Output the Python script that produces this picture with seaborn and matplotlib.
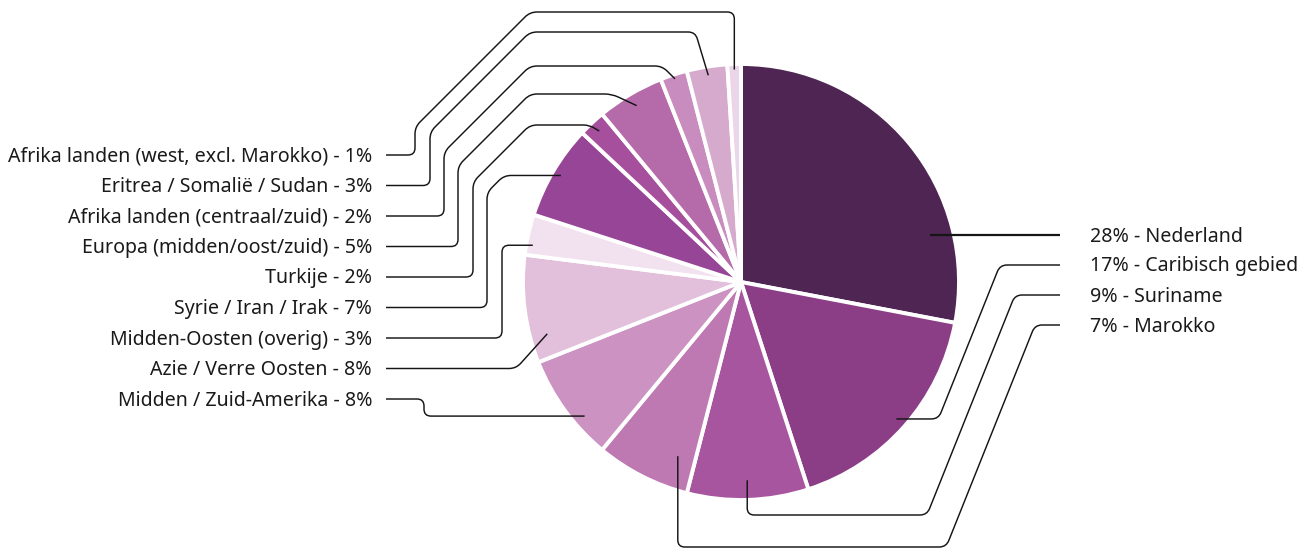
import numpy as np
import matplotlib
matplotlib.use("Agg")
import matplotlib.pyplot as plt
from matplotlib.path import Path
from matplotlib.patches import PathPatch
import seaborn as sns

# slices in clockwise order, starting at 12 o'clock
regions = ["Nederland", "Caribisch gebied", "Suriname", "Marokko",
           "Midden / Zuid-Amerika", "Azie / Verre Oosten", "Midden-Oosten (overig)",
           "Syrie / Iran / Irak", "Turkije", "Europa (midden/oost/zuid)",
           "Afrika landen (centraal/zuid)", "Eritrea / Somalië / Sudan",
           "Afrika landen (west, excl. Marokko)"]
shares = [28, 17, 9, 7, 8, 8, 3, 7, 2, 5, 2, 3, 1]
colors = ["#4f2553", "#8b3d86", "#a855a0", "#be78b2", "#cc92c2", "#e2bfdb", "#f2e1ee",
          "#974596", "#a54f9d", "#b56baa", "#c98cbe", "#d6aacd", "#ecd5e8"]

sns.set_theme(style="white")
plt.rcParams["font.family"] = ["Noto Sans", "DejaVu Sans"]

W, H = 1310, 549
cx, cy, R = 741, 282, 218

fig = plt.figure(figsize=(W / 100, H / 100), dpi=100)
ax = fig.add_axes([0, 0, 1, 1])

# y axis points down, so counterclock in data = clockwise on screen
wedges, _ = ax.pie(shares, colors=colors, startangle=-90, counterclock=True,
                   center=(cx, cy), radius=R,
                   wedgeprops=dict(edgecolor="white", linewidth=2.8))
ax.set_xlim(0, W)
ax.set_ylim(H, 0)
ax.set_aspect("equal")
ax.axis("off")

# where each leader line touches its slice (fraction across wedge, fraction of radius)
anchor_pos = [(0.757, 0.89), (0.5, 0.95), (0.5, 0.91), (0.22, 0.85), (0.34, 0.945),
              (0.23, 0.92), (0.26, 0.97), (0.5, 0.96), (0.5, 0.95), (0.5, 0.94),
              (0.5, 0.98), (0.5, 0.96), (0.5, 0.975)]
anchors = []
for w, (f, rf) in zip(wedges, anchor_pos):
    t = np.deg2rad(w.theta1 + f * (w.theta2 - w.theta1))
    anchors.append((cx + rf * R * np.cos(t), cy + rf * R * np.sin(t)))


def leader(pts, r=7, lw=1.05):
    pts = [np.array(p, dtype=float) for p in pts]
    verts, codes = [pts[0]], [Path.MOVETO]
    for p0, p1, p2 in zip(pts[:-2], pts[1:-1], pts[2:]):
        v1, v2 = p0 - p1, p2 - p1
        l1, l2 = np.hypot(*v1), np.hypot(*v2)
        if l1 < 1e-6 or l2 < 1e-6:
            continue
        rr = min(r, l1 / 2, l2 / 2)
        verts += [p1 + v1 / l1 * rr, p1, p1 + v2 / l2 * rr]
        codes += [Path.LINETO, Path.CURVE3, Path.CURVE3]
    verts.append(pts[-1])
    codes.append(Path.LINETO)
    ax.add_patch(PathPatch(Path(verts, codes), fill=False, edgecolor="#151515",
                           linewidth=lw, capstyle="butt", clip_on=False))


txt = dict(fontsize=14.1, color="#1a1a1a", va="center")
dy_txt = 1.5  # small nudge so text sits on the leader line like the original

# right side labels
right_rows = [235, 265, 295, 325]
right_lane = [None, 1000, 1015, 1035]
right_bottom = [None, None, 515, 547]
for i in range(4):
    row = right_rows[i]
    A = anchors[i]
    ax.text(1090, row + dy_txt, f"{shares[i]}% - {regions[i]}", ha="left", **txt)
    if i == 0:
        leader([(A[0], row), (1060, row)], lw=1.6)
        continue
    bottom = right_bottom[i] if right_bottom[i] else A[1]
    knee = right_lane[i] - (bottom - row) / 2.5
    pts = [A]
    if right_bottom[i]:
        pts.append((A[0], bottom))
    pts += [(knee, bottom), (right_lane[i], row), (1060, row)]
    leader(pts)

# left side labels, top to bottom
left_idx = [12, 11, 10, 9, 8, 7, 6, 5, 4]
left_rows = [155 + 30.5 * k for k in range(9)]
top_lane = {12: 415, 11: 430, 10: 444, 9: 458, 8: 473}
top_y = {12: 12, 11: 32, 10: 66, 9: 94, 8: 125}
hook_dx = {12: 0, 11: 13, 10: 13, 9: 25, 8: 10}
for i, row in zip(left_idx, left_rows):
    A = anchors[i]
    ax.text(372, row + dy_txt, f"{regions[i]} - {shares[i]}%", ha="right", **txt)
    start = (386, row)
    if i in top_lane:
        lane, top = top_lane[i], top_y[i]
        d = 530 - lane
        pts = [start, (lane, row), (lane, top + d), (lane + d, top),
               (A[0] - hook_dx[i], top), A]
    elif i == 7:
        pts = [start, (487, row), (487, A[1] + 17), (504, A[1]), A]
    elif i == 6:
        pts = [start, (502, row), (502, A[1]), A]
    elif i == 5:
        pts = [start, (A[0] - (row - A[1]) * 0.9, row), A]
    else:
        pts = [start, (424, row), (424, A[1]), A]
    leader(pts)

fig.savefig("out.png", dpi=100)
